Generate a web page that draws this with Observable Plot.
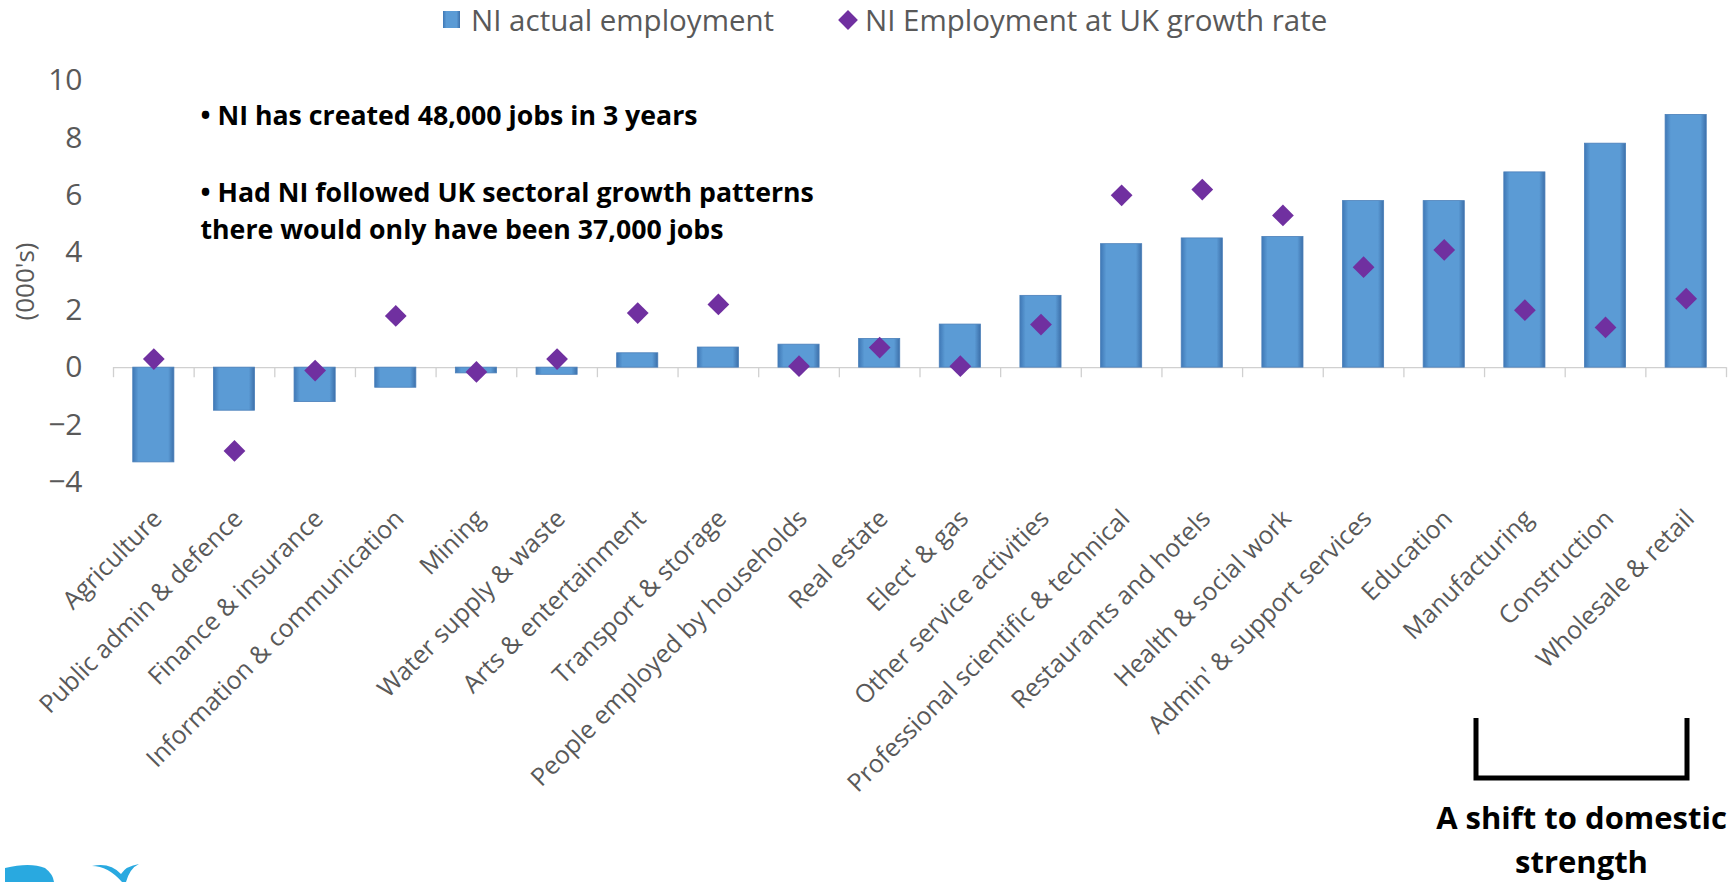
<!DOCTYPE html>
<html><head><meta charset="utf-8">
<script src="https://cdn.jsdelivr.net/npm/d3@7"></script>
<script src="https://cdn.jsdelivr.net/npm/@observablehq/plot@0.6"></script>
<style>
body{margin:0;background:#fff;font-family:"Open Sans",sans-serif;}
#wrap{position:relative;width:1735px;height:882px;overflow:hidden;background:#fff;}
#legend{position:absolute;left:0;top:0;width:1735px;height:40px;color:#595959;font-size:29.5px;}
#legend .item{position:absolute;top:-1px;display:flex;align-items:center;white-space:nowrap;}
#chart{position:absolute;left:0;top:40px;}
#overlay{position:absolute;left:0;top:0;pointer-events:none;}
</style></head><body>
<div id="wrap">
  <div id="legend"></div>
  <div id="chart"></div>
  <svg id="overlay" width="1735" height="882"></svg>
</div>
<script>
// ---- data ----
const sectors = [
  "Agriculture", "Public admin & defence", "Finance & insurance", "Information & communication",
  "Mining", "Water supply & waste", "Arts & entertainment", "Transport & storage",
  "People employed by households", "Real estate", "Elect' & gas", "Other service activities",
  "Professional scientific & technical", "Restaurants and hotels", "Health & social work",
  "Admin' & support services", "Education", "Manufacturing", "Construction", "Wholesale & retail"
];
const niActual = [-3.3, -1.5, -1.2, -0.7, -0.2, -0.25, 0.5, 0.7, 0.8, 1.0, 1.5, 2.5, 4.3, 4.5, 4.55, 5.8, 5.8, 6.8, 7.8, 8.8];
const niAtUkRate = [0.3, -2.9, -0.1, 1.8, -0.15, 0.3, 1.9, 2.2, 0.05, 0.7, 0.05, 1.5, 6.0, 6.2, 5.3, 3.5, 4.1, 2.0, 1.4, 2.4];
const yTicks = [-4, -2, 0, 2, 4, 6, 8, 10];
const seriesNames = ["NI actual employment", "NI Employment at UK growth rate"];
const yLabel = "(000's)";
const notes = [
  "\u2022 NI has created 48,000 jobs in 3 years",
  "\u2022 Had NI followed UK sectoral growth patterns",
  "there would only have been 37,000 jobs"
];
const shiftNote = ["A shift to domestic", "strength"];

const rows = sectors.map((s, i) => ({sector: s, actual: niActual[i], uk: niAtUkRate[i]}));

// ---- layout ----
const W = 1735, H = 842, mL = 113, mR = 9, mT = 40, mB = 400;
const step = (W - mL - mR) / sectors.length;
const grey = "#595959", purple = "#7030a0";
const font = "'Open Sans', sans-serif";
const noteStyle = {textAnchor: "start", lineAnchor: "middle", fontSize: 26.7, fontWeight: "bold", fill: "#000", text: d => d};
const shiftStyle = {textAnchor: "middle", lineAnchor: "middle", fontSize: 31, fontWeight: "bold", fill: "#000", text: d => d};

const plot = Plot.plot({
  width: W, height: H,
  marginLeft: mL, marginRight: mR, marginTop: mT, marginBottom: mB,
  style: {fontFamily: font, background: "transparent"},
  x: {domain: sectors, paddingInner: 0.49, paddingOuter: 0.245, round: false, axis: null},
  y: {domain: [-4, 10], axis: null},
  marks: [
    Plot.ruleY([0], {stroke: "#d0d0d0", strokeWidth: 1.3}),
    Plot.ruleX(sectors, {x: d => d, y1: 0, y2: -0.35, dx: -step / 2, stroke: "#d0d0d0", strokeWidth: 1.3}),
    Plot.ruleX(sectors.slice(-1), {x: d => d, y1: 0, y2: -0.35, dx: step / 2, stroke: "#d0d0d0", strokeWidth: 1.3}),
    Plot.barY(rows, {x: "sector", y: "actual", fill: "url(#barGrad)", stroke: "#4a7fb9", strokeWidth: 0.8}),
    Plot.dot(rows, {x: "sector", y: "uk", symbol: "diamond2", r: 9.8, fill: purple, stroke: "none"}),
    Plot.axisY({ticks: yTicks, tickSize: 0, tickPadding: 31, fontSize: 30, color: grey, label: null}),
    Plot.text([yLabel], {frameAnchor: "left", dx: -88, rotate: -90, fontSize: 26, fill: grey, text: d => d,
      textAnchor: "middle", lineAnchor: "middle"}),
    Plot.text(sectors, {x: d => d, text: d => d, frameAnchor: "bottom", dy: 32, dx: 4, rotate: -45,
      textAnchor: "end", lineAnchor: "middle", fontSize: 25, fill: grey}),
    Plot.text([notes[0]], {frameAnchor: "top-left", dx: 87, dy: 36, ...noteStyle}),
    Plot.text([notes[1]], {frameAnchor: "top-left", dx: 87, dy: 113, ...noteStyle}),
    Plot.text([notes[2]], {frameAnchor: "top-left", dx: 87, dy: 150, ...noteStyle}),
    Plot.text([shiftNote[0]], {frameAnchor: "bottom-right", dx: -145, dy: 337, ...shiftStyle}),
    Plot.text([shiftNote[1]], {frameAnchor: "bottom-right", dx: -145, dy: 381, ...shiftStyle})
  ]
});

// gradient defs for the bevelled bars
const ns = "http://www.w3.org/2000/svg";
const defs = document.createElementNS(ns, "defs");
defs.innerHTML = `
  <linearGradient id="barGrad" x1="0" x2="1" y1="0" y2="0">
    <stop offset="0" stop-color="#3f78b6"/>
    <stop offset="0.14" stop-color="#5b9bd5"/>
    <stop offset="0.86" stop-color="#5b9bd5"/>
    <stop offset="1" stop-color="#3d70aa"/>
  </linearGradient>`;
plot.insertBefore(defs, plot.firstChild);
document.getElementById("chart").appendChild(plot);

// legend
const legend = document.getElementById("legend");
legend.innerHTML = `
  <div class="item" style="left:443px"><span style="display:inline-block;width:17px;height:17px;background:linear-gradient(90deg,#3f78b6,#5b9bd5 20%,#5b9bd5 80%,#3d70aa);margin-right:11px"></span>${seriesNames[0]}</div>
  <div class="item" style="left:838px"><span style="display:inline-block;width:14px;height:14px;background:${purple};transform:rotate(45deg);margin:0 10px 0 3px"></span>${seriesNames[1]}</div>`;

// bracket + logo
const ov = document.getElementById("overlay");
ov.innerHTML = `
  <path d="M1476,718 V778 H1687 V718" fill="none" stroke="#000" stroke-width="5"/>
  <path d="M5,882 V868 Q30,862 45,868 Q53,874 54,882 Z" fill="#29a9e0"/>
  <path d="M92,866 Q108,866 122,882 L126,882 Q130,868 139,864 Q126,866 121,874 Q110,862 92,866 Z" fill="#29a9e0"/>`;
</script>
</body></html>
